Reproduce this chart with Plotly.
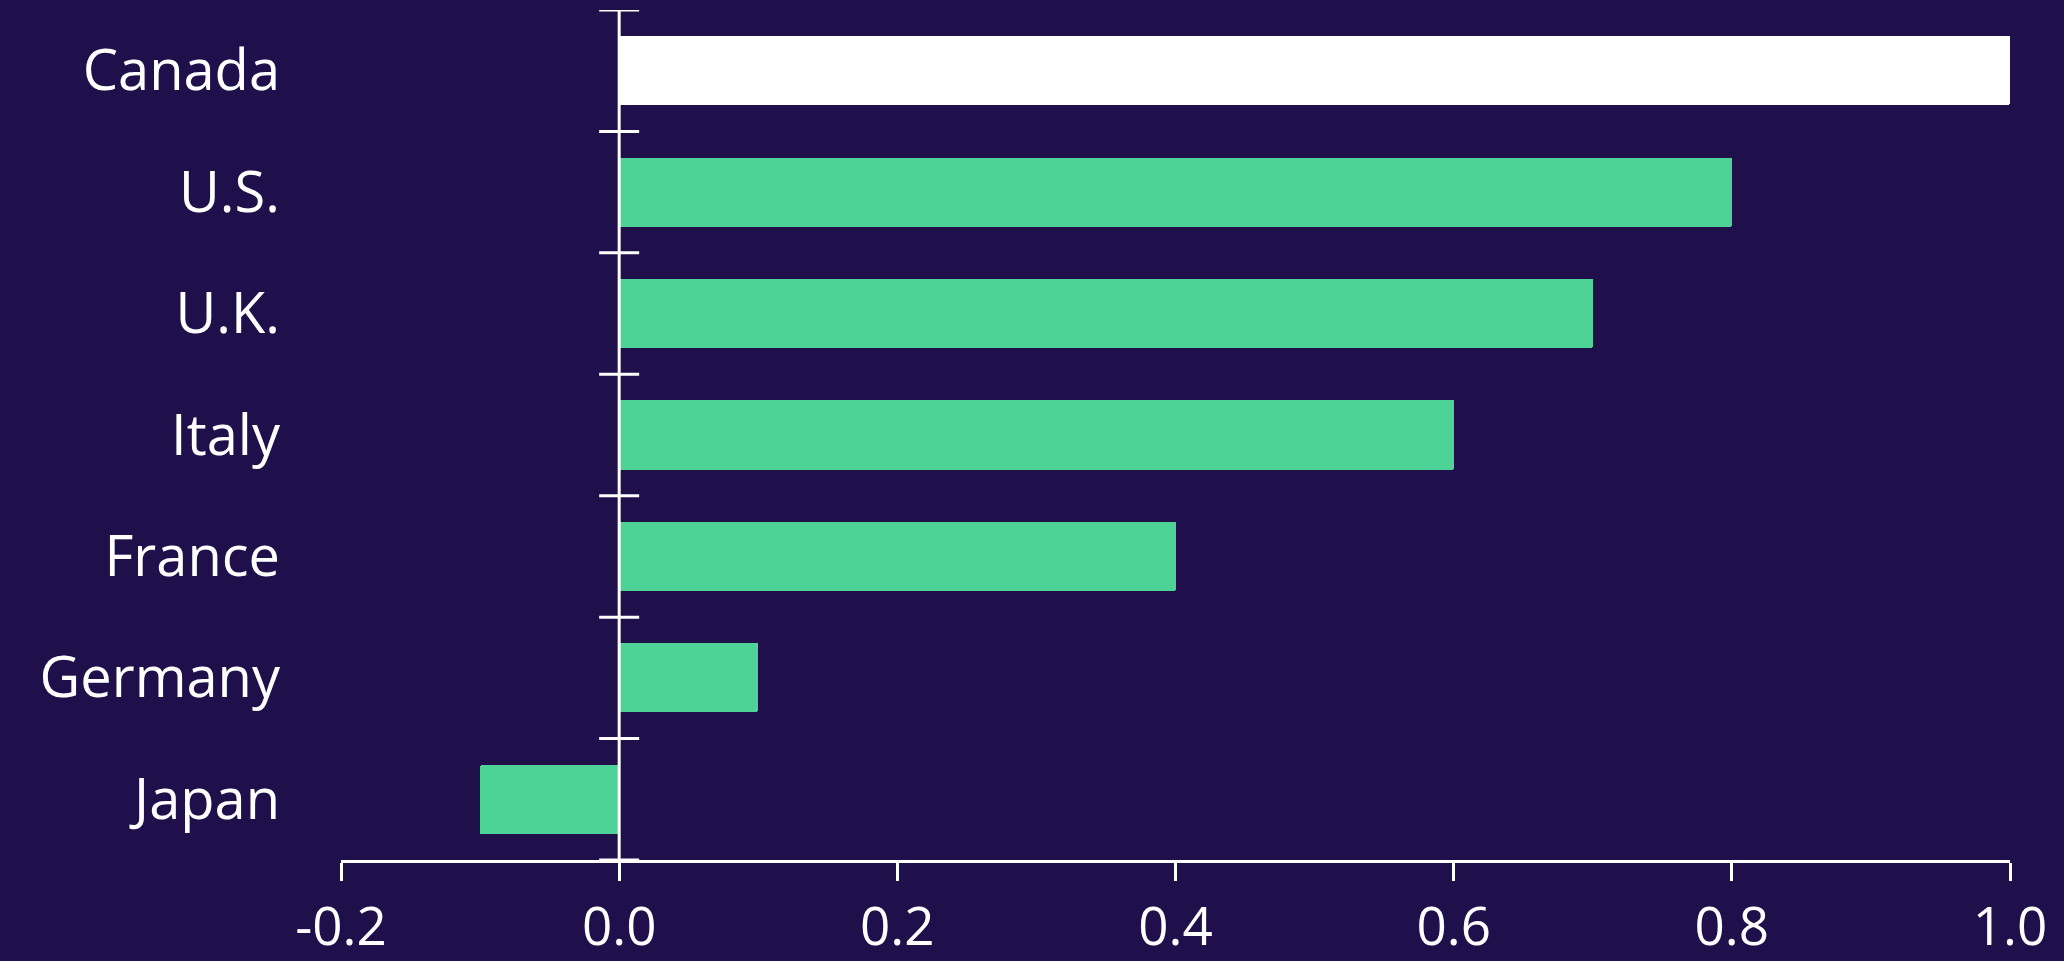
import plotly.graph_objects as go

countries = ["Canada", "U.S.", "U.K.", "Italy", "France", "Germany", "Japan"]
values = [1.0, 0.8, 0.7, 0.6, 0.4, 0.1, -0.1]
bar_colors = ["#FFFFFF", "#4ED396", "#4ED396", "#4ED396", "#4ED396", "#4ED396", "#4ED396"]
x_ticks = [-0.2, 0.0, 0.2, 0.4, 0.6, 0.8, 1.0]
x_ticklabels = ["-0.2", "0.0", "0.2", "0.4", "0.6", "0.8", "1.0"]

BG = "#1F104B"
FONT = "Open Sans"

fig = go.Figure()
fig.add_trace(go.Bar(
    y=countries, x=values, orientation="h",
    marker=dict(color=bar_colors, line=dict(width=0), cornerradius=2),
    width=0.57,
))

shapes = []
# vertical axis line at x = 0
shapes.append(dict(type="line", xref="x", yref="y domain", x0=0, x1=0, y0=0, y1=1,
                   line=dict(color="white", width=3), layer="above"))
# crossing category ticks at boundaries
for i in range(len(countries) + 1):
    shapes.append(dict(type="line", xref="x", yref="y", xsizemode="pixel", xanchor=0,
                       x0=-20, x1=20, y0=i - 0.5, y1=i - 0.5,
                       line=dict(color="white", width=3), layer="above"))

fig.update_layout(
    width=2064, height=961,
    paper_bgcolor=BG, plot_bgcolor=BG,
    margin=dict(l=341, r=54, t=10, b=101, autoexpand=False),
    showlegend=False,
    font=dict(family=FONT, color="white", size=56),
    shapes=shapes,
    bargap=0,
)
fig.update_xaxes(
    range=[-0.2, 1.0], tickvals=x_ticks, ticktext=x_ticklabels,
    showgrid=False, zeroline=False, showline=True, linecolor="white", linewidth=3,
    ticks="outside", ticklen=18, tickwidth=3, tickcolor="white",
    ticklabelstandoff=0, automargin=False,
    tickfont=dict(family=FONT, size=53, color="white"),
)
fig.update_yaxes(
    range=[len(countries) - 0.5, -0.5], categoryorder="array", categoryarray=countries,
    showgrid=False, zeroline=False, showline=False, ticks="",
    ticklabelstandoff=60, automargin=False,
    tickfont=dict(family=FONT, size=56, color="white"),
)

post = (
    "document.body.style.margin='0';"
    "document.body.style.padding='0';"
    "document.body.style.overflow='hidden';"
    "document.documentElement.style.background='" + BG + "';"
    "document.body.style.background='" + BG + "';"
)
fig.write_html("out.html", post_script=post, config={"displayModeBar": False})
